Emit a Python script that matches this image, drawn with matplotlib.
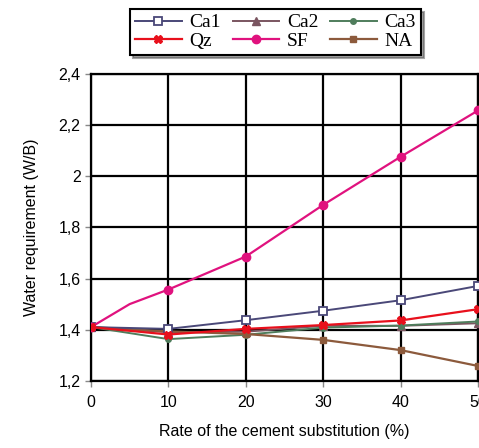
import numpy as np
import matplotlib
matplotlib.use("Agg")
import matplotlib.pyplot as plt
from matplotlib.ticker import FuncFormatter

# substitution rate (%)
rate = [0, 10, 20, 30, 40, 50]
rate_sf = [0, 5, 10, 20, 30, 40, 50]

ca1 = [1.41, 1.403, 1.437, 1.474, 1.515, 1.571]
ca2 = [1.41, 1.39, 1.392, 1.415, 1.415, 1.425]
ca3 = [1.41, 1.363, 1.38, 1.408, 1.416, 1.432]
qz = [1.41, 1.381, 1.403, 1.418, 1.436, 1.48]
sf = [1.41, 1.50, 1.557, 1.686, 1.888, 2.076, 2.257]
na = [1.41, 1.393, 1.383, 1.36, 1.32, 1.258]

fig = plt.figure(figsize=(4.79, 4.48), dpi=100)
ax = fig.add_axes([0.19, 0.15, 0.808, 0.685])

l_ca1, = ax.plot(rate, ca1, color="#4a4878", lw=1.4, marker="s", ms=6,
                 mfc="white", mec="#4a4878", mew=1.3, label="Ca1", zorder=4)
l_ca2, = ax.plot(rate, ca2, color="#7a5560", lw=1.4, marker="^", ms=6,
                 label="Ca2", zorder=3)
l_ca3, = ax.plot(rate, ca3, color="#4f7d5c", lw=1.4, marker="o", ms=4,
                 label="Ca3", zorder=3)
l_qz, = ax.plot(rate, qz, color="#e8101c", lw=1.6, marker="X", ms=6,
                label="Qz", zorder=5)
l_sf, = ax.plot(rate_sf, sf, color="#e0127e", lw=1.6, marker="o", ms=6,
                markevery=[0, 2, 3, 4, 5, 6], label="SF", zorder=4)
l_na, = ax.plot(rate, na, color="#8c5a3c", lw=1.6, marker="s", ms=5,
                label="NA", zorder=3)

ax.set_xlim(0, 50)
ax.set_ylim(1.2, 2.4)
ax.set_xticks(rate)
ax.set_yticks(np.arange(1.2, 2.41, 0.2))
ax.yaxis.set_major_formatter(FuncFormatter(lambda v, p: f"{v:.1f}".rstrip("0").rstrip(".").replace(".", ",")))
ax.grid(True, color="black", lw=1.6)
ax.set_axisbelow(True)
for s in ax.spines.values():
    s.set_linewidth(1.6)
ax.tick_params(axis="both", labelsize=11.5, length=4, width=1, color="#888888")
ax.tick_params(axis="x", pad=6)
for t in ax.get_xticklabels() + ax.get_yticklabels():
    t.set_fontfamily("Liberation Sans")

ax.set_xlabel("Rate of the cement substitution (%)", fontsize=11.5,
              family="Liberation Sans", labelpad=10)
ax.set_ylabel("Water requirement (W/B)", fontsize=11.5,
              family="Liberation Sans", labelpad=14)

# row-major order like the reference legend
handles = [l_ca1, l_qz, l_ca2, l_sf, l_ca3, l_na]
leg = fig.legend(handles, [h.get_label() for h in handles],
                 loc="upper center", bbox_to_anchor=(0.575, 0.98), ncol=3,
                 prop={"family": "Liberation Serif", "size": 14},
                 frameon=True, fancybox=False, shadow=True,
                 handlelength=2.4, columnspacing=0.6, handletextpad=0.4,
                 labelspacing=0.05, borderpad=0.25, borderaxespad=0)
leg.get_frame().set_edgecolor("black")
leg.get_frame().set_linewidth(1.5)

fig.savefig("out.png", dpi=100)
